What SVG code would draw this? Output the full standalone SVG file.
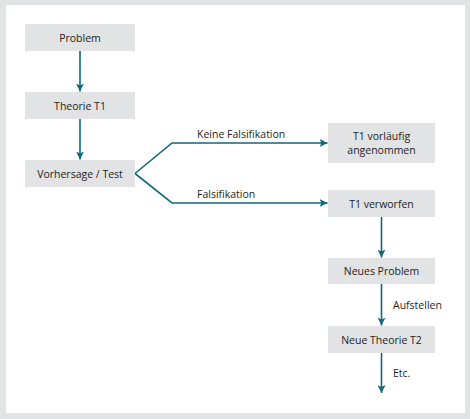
<svg xmlns="http://www.w3.org/2000/svg" width="470" height="419" viewBox="0 0 470 419">
<style>
.box{fill:#e1e3e4}
.t{font-family:"Open Sans","Noto Sans",sans-serif;font-size:10.5px;fill:#1e1e1e}
.c{text-anchor:middle}
.ln{fill:none;stroke:#11687a;stroke-width:1.6}
</style>
<defs>
<marker id="ah" markerWidth="8" markerHeight="8" refX="8" refY="4" orient="auto" markerUnits="userSpaceOnUse">
<path d="M0,0 L8,4 L0,8 L2,4 Z" fill="#11687a"/>
</marker>
</defs>
<rect x="0" y="0" width="470" height="419" fill="#e1e3e4"/>
<rect x="6" y="5" width="459" height="408" fill="#ffffff"/>
<g id="connectors">
<path class="ln" d="M80,51 V91.5" marker-end="url(#ah)"/>
<path class="ln" d="M80,119 V159.5" marker-end="url(#ah)"/>
<path class="ln" d="M135,173.5 L172,143 H327.5" marker-end="url(#ah)"/>
<path class="ln" d="M135,173.5 L172,203 H327.5" marker-end="url(#ah)"/>
<path class="ln" d="M381.5,217 V257.5" marker-end="url(#ah)"/>
<path class="ln" d="M381.5,284 V325.5" marker-end="url(#ah)"/>
<path class="ln" d="M381.5,353 V393" marker-end="url(#ah)"/>
<text class="t" x="197" y="138">Keine Falsifikation</text>
<text class="t" x="197" y="198">Falsifikation</text>
<text class="t" x="393" y="309">Aufstellen</text>
<text class="t" x="393" y="377">Etc.</text>
</g>
<g id="problem"><rect class="box" x="25" y="24" width="110" height="27"/><text class="t c" x="80" y="41.5">Problem</text></g>
<g id="theorie"><rect class="box" x="25" y="92" width="110" height="27"/><text class="t c" x="80" y="109.5">Theorie T1</text></g>
<g id="vorhersage"><rect class="box" x="25" y="160" width="110" height="27"/><text class="t c" x="80" y="177.5">Vorhersage / Test</text></g>
<g id="angenommen"><rect class="box" x="328" y="123" width="107" height="40"/><text class="t c" x="381.5" y="140">T1 vorläufig</text><text class="t c" x="381.5" y="154">angenommen</text></g>
<g id="verworfen"><rect class="box" x="328" y="190" width="107" height="27"/><text class="t c" x="381.5" y="207.5">T1 verworfen</text></g>
<g id="neuesproblem"><rect class="box" x="328" y="258" width="107" height="26"/><text class="t c" x="381.5" y="275">Neues Problem</text></g>
<g id="neuetheorie"><rect class="box" x="328" y="326" width="107" height="27"/><text class="t c" x="381.5" y="343.5">Neue Theorie T2</text></g>
</svg>
